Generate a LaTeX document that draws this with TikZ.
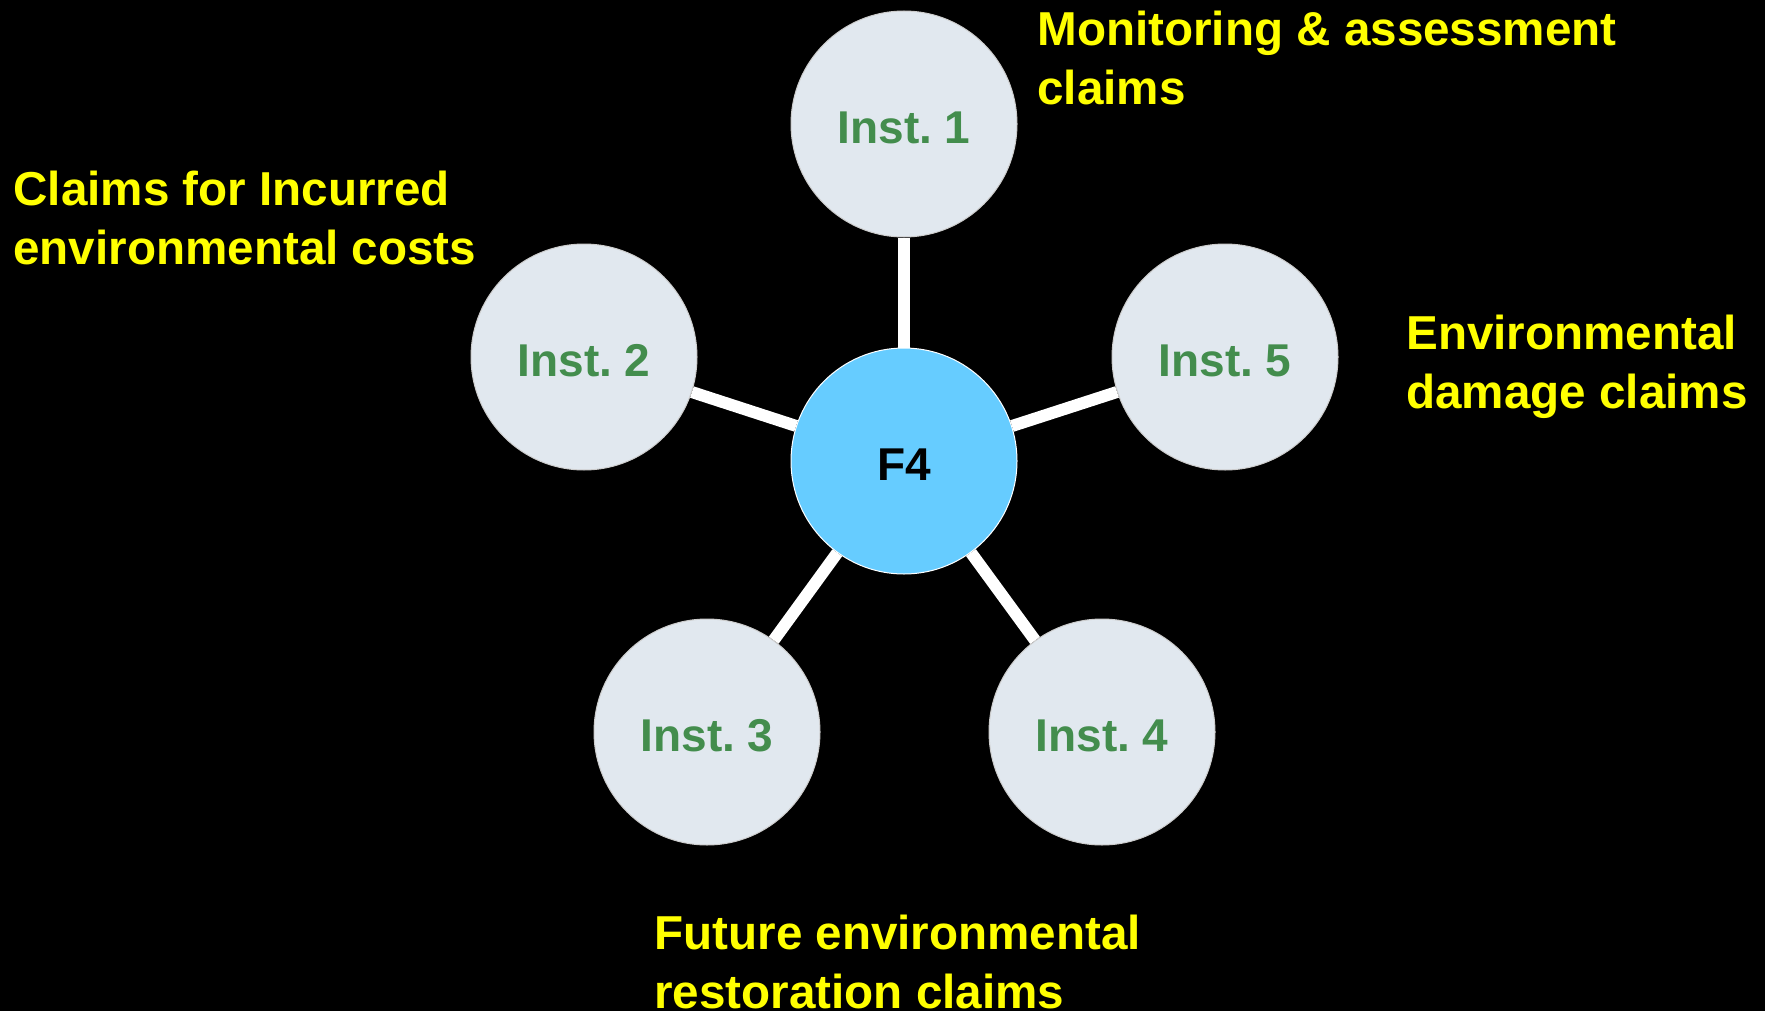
\documentclass[tikz,border=0pt]{standalone}
\usepackage{fontspec}
\setmainfont{Liberation Sans}
\usepackage{xcolor}
\usetikzlibrary{positioning}
\definecolor{instfill}{HTML}{E1E8EF}
\definecolor{instgreen}{HTML}{438D4D}
\definecolor{hubblue}{HTML}{66CCFF}
\definecolor{claimyellow}{HTML}{FFFF00}
\frenchspacing

\begin{document}
\begin{tikzpicture}[x=0.5pt, y=-0.5pt,
    inst/.style={circle, draw=gray!40, line width=0.5pt, fill=instfill, minimum size=113pt, inner sep=0pt, text height=19.5pt, text depth=0pt, text=instgreen, font=\fontsize{23}{27}\selectfont\bfseries},
    hub/.style={inst, fill=hubblue, draw=white, text=black},
    claim/.style={align=left, text=claimyellow, anchor=north west, inner sep=0pt, font=\fontsize{23.8}{29.2}\selectfont\bfseries},
    spoke/.style={white, line width=6pt}]
\fill[black] (0,0) rectangle (1765,1011);
\useasboundingbox (0,0) rectangle (1765,1011);

\node[hub] (f4) at (904,461) {F4};
\node[inst] (inst1) at (904,124) {Inst. 1};
\node[inst] (inst2) at (584,357) {Inst. 2};
\node[inst] (inst3) at (707,732) {Inst. 3};
\node[inst] (inst4) at (1102,732) {Inst. 4};
\node[inst] (inst5) at (1225,357) {Inst. 5};

\draw[spoke] (f4) -- (inst1);
\draw[spoke] (f4) -- (inst2);
\draw[spoke] (f4) -- (inst3);
\draw[spoke] (f4) -- (inst4);
\draw[spoke] (f4) -- (inst5);

\node[claim] (monitor) at (1037,11) {Monitoring \& assessment\\claims};
\node[claim] (incurred) at (13,171) {Claims for Incurred\\environmental costs};
\node[claim] (damage) at (1406,315) {Environmental\\damage claims};
\node[claim] (future) at (654,915) {Future environmental\\restoration claims};
\end{tikzpicture}
\end{document}
